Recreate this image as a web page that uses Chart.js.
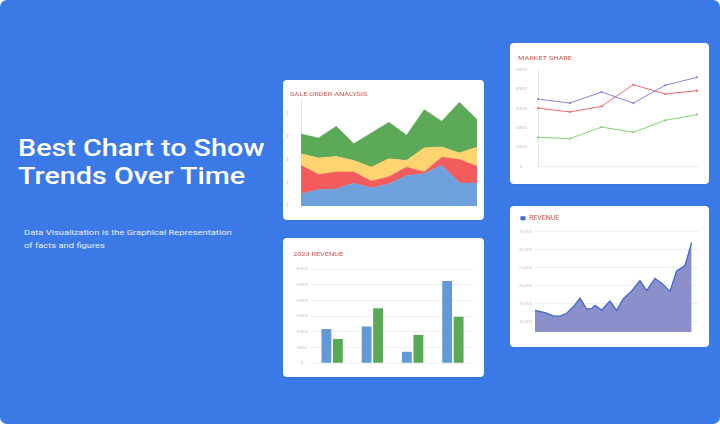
<!DOCTYPE html>
<html><head><meta charset="utf-8">
<script src="https://cdn.jsdelivr.net/npm/chart.js@4.4.0/dist/chart.umd.min.js"></script>
<style>
html,body{margin:0;padding:0;background:#fff;width:720px;height:424px;overflow:hidden;font-family:Roboto,sans-serif}
#bg{position:absolute;left:0;top:0;width:720px;height:424px;background:#3b79e6;border-radius:7px}
.card{position:absolute;background:#fff;border-radius:4px;box-shadow:0 1px 2px rgba(0,0,0,0.08)}
.card canvas{position:absolute;left:0;top:0}
.ctitle{position:absolute;white-space:nowrap;font-size:5.8px;color:#d0524c;transform:scaleX(1.27);transform-origin:0 50%;line-height:8px}
.big{position:absolute;left:18px;top:135.2px;color:#fff;font-size:23px;font-weight:500;line-height:28px;white-space:nowrap;transform:scaleX(1.25);transform-origin:0 0}
.sub{position:absolute;left:24px;top:227px;color:#eaf0fd;font-size:7.4px;line-height:12.7px;white-space:nowrap;transform:scaleX(1.27);transform-origin:0 0}
</style></head><body>
<div id="bg"></div>
<div class="big">Best Chart to Show<br>Trends Over Time</div>
<div class="sub">Data Visualization is the Graphical Representation<br>of facts and figures</div>

<div class="card" style="left:283px;top:80px;width:201px;height:140px"><canvas id="c1" width="201" height="140" style="width:201px;height:140px"></canvas></div>
<div class="card" style="left:510px;top:43px;width:199px;height:141px"><canvas id="c2" width="199" height="141" style="width:199px;height:141px"></canvas></div>
<div class="card" style="left:283px;top:238px;width:201px;height:139px"><canvas id="c3" width="201" height="139" style="width:201px;height:139px"></canvas></div>
<div class="card" style="left:510px;top:206px;width:199px;height:141px"><canvas id="c4" width="199" height="141" style="width:199px;height:141px"></canvas></div>

<div class="ctitle" style="left:290px;top:89.7px">SALE ORDER ANALYSIS</div>
<div class="ctitle" style="left:517.7px;top:54.3px">MARKET SHARE</div>
<div class="ctitle" style="left:292.7px;top:250px">2023 REVENUE</div>

<script>
// ---- Sale order analysis (stacked area) ----
const soLabels = ['1','2','3','4','5','6','7','8','9','10','11'];
const soBlue   = [5.4, 7.2, 7.5, 10.0, 8.0, 9.7, 13.3, 14.1, 17.8, 10.1, 10.1];
const soRed    = [12.4, 6.6, 7.4, 4.9, 2.9, 3.2, 3.7, 0.8, 3.5, 10.2, 7.3];
const soYellow = [5.0, 7.2, 6.7, 5.0, 6.1, 7.8, 2.9, 10.5, 4.5, 2.9, 8.3];
const soGreen  = [8.6, 8.7, 13.2, 7.3, 14.9, 15.8, 11.0, 16.6, 11.2, 22.0, 12.0];
const soTicks  = [0, 10, 20, 30, 40];

// ---- Market share (lines) ----
const msLabels = ['2018','2019','2020','2021','2022','2023'];
const msPurple = [35000, 32900, 38600, 32900, 42100, 46200];
const msRed    = [30300, 28300, 31200, 42400, 37600, 39300];
const msGreen  = [15200, 14500, 20500, 17800, 24000, 26900];

// ---- 2023 revenue (bars) ----
const barLabels = ['Q1','Q2','Q3','Q4'];
const barBlue   = [10900, 11700, 3700, 26200];
const barGreen  = [7700, 17500, 9000, 14800];

// ---- Revenue (area) ----
const revX = [0, 6, 11, 15, 19, 23, 27, 31, 34, 36, 40, 45, 49, 53, 57, 63, 67, 72, 76, 81, 85, 90, 94];
const revY = [13100, 12500, 11600, 11500, 12300, 14100, 16500, 13500, 13600, 14500, 13200, 15700, 13100, 16400, 18000, 21400, 18600, 22000, 20700, 18400, 24100, 25600, 32000];
const revTicks = [10000, 15000, 20000, 25000, 30000, 35000];

Chart.defaults.font.family = 'Roboto';
const base = {animation:false, responsive:false,
  plugins:{legend:{display:false}, tooltip:{enabled:false}, title:{display:false}}};
const tickFont = {size:4.3};
const tickCol = '#c4c4c4';

// Chart 1
const soSets = [
  {label:'Blue', data:soBlue, color:'#6ea1dc', fill:'origin'},
  {label:'Red', data:soRed, color:'#f25c5c', fill:'-1'},
  {label:'Yellow', data:soYellow, color:'#fdd470', fill:'-1'},
  {label:'Green', data:soGreen, color:'#5ca957', fill:'-1'}
].map(d=>({label:d.label, data:d.data, fill:d.fill, backgroundColor:d.color, borderColor:d.color,
  borderWidth:0.6, pointRadius:0, tension:0}));
new Chart(document.getElementById('c1'), {
  type:'line',
  data:{labels:soLabels, datasets:soSets},
  options:Object.assign({}, base, {
    layout:{padding:{left:3, right:7, top:20.5, bottom:13.7}},
    scales:{
      x:{display:false, offset:false},
      y:{stacked:true, min:0, max:46,
        afterBuildTicks:s=>{s.ticks = soTicks.map(v=>({value:v}));},
        afterFit:s=>{s.width = 15;},
        grid:{display:false}, border:{display:true, color:'#e3e3e3', width:1},
        ticks:{font:{size:4.5}, color:tickCol, padding:5}}
    }
  })
});

// Chart 2
const msSets = [
  {label:'A', data:msPurple, color:'#8a80e2'},
  {label:'B', data:msRed, color:'#f06a6a'},
  {label:'C', data:msGreen, color:'#7fd470'}
].map(d=>({label:d.label, data:d.data, borderColor:d.color, backgroundColor:d.color,
  borderWidth:1, pointRadius:1.1, pointBorderWidth:0, tension:0, fill:false}));
new Chart(document.getElementById('c2'), {
  type:'line',
  data:{labels:msLabels, datasets:msSets},
  options:Object.assign({}, base, {
    layout:{padding:{left:6, right:12, top:27, bottom:17.3}},
    scales:{
      x:{display:true, offset:false, grid:{display:false}, ticks:{display:false},
        border:{display:true, color:'#ececec', width:1}, afterFit:s=>{s.height = 0;}},
      y:{min:0, max:50000, ticks:{stepSize:10000, font:tickFont, color:tickCol, padding:3, crossAlign:'center',
          callback:v=>String(v)},
        afterFit:s=>{s.width = 22;},
        grid:{display:false}, border:{display:true, color:'#e3e3e3', width:1}}
    }
  })
});

// Chart 3
new Chart(document.getElementById('c3'), {
  type:'bar',
  data:{labels:barLabels, datasets:[
    {label:'Blue', data:barBlue, backgroundColor:'#6399d6', categoryPercentage:0.57, barPercentage:0.86},
    {label:'Green', data:barGreen, backgroundColor:'#5aa957', categoryPercentage:0.57, barPercentage:0.86}
  ]},
  options:Object.assign({}, base, {
    layout:{padding:{left:7, right:11, top:31, bottom:13.7}},
    scales:{
      x:{display:false},
      y:{min:0, max:30000, ticks:{stepSize:5000, font:tickFont, color:tickCol, padding:2, crossAlign:'center',
          callback:v=>String(v)},
        afterFit:s=>{s.width = 22;},
        grid:{color:'#f0f0f0', tickLength:2, lineWidth:1}, border:{display:false}}
    }
  })
});

// Chart 4
new Chart(document.getElementById('c4'), {
  type:'line',
  data:{datasets:[{label:'REVENUE', data:revX.map((x,i)=>({x:x, y:revY[i]})),
    borderColor:'#3f67d2', backgroundColor:'#8b8fca', borderWidth:1.3, pointRadius:0, tension:0, fill:'start'}]},
  options:Object.assign({}, base, {
    layout:{padding:{left:5, right:10.7, top:3.3, bottom:14.7}},
    plugins:{tooltip:{enabled:false},
      legend:{display:true, position:'top', align:'start',
        labels:{boxWidth:5, boxHeight:4, padding:5.5, color:'#d0524c', font:{size:7},
          generateLabels:c=>Chart.defaults.plugins.legend.labels.generateLabels(c).map(l=>Object.assign(l,{fillStyle:'#3f67d2', strokeStyle:'#3f67d2', lineWidth:0}))}}},
    scales:{
      x:{type:'linear', min:0, max:98, display:false},
      y:{min:7000, max:35000,
        afterBuildTicks:s=>{s.ticks = revTicks.map(v=>({value:v}));},
        afterFit:s=>{s.width = 20;},
        ticks:{font:tickFont, color:tickCol, padding:3, crossAlign:'center', callback:v=>v.toLocaleString('en-US')},
        grid:{color:'#eeeeee', lineWidth:1, drawTicks:false}, border:{display:false}}
    }
  })
});
</script>
</body></html>
